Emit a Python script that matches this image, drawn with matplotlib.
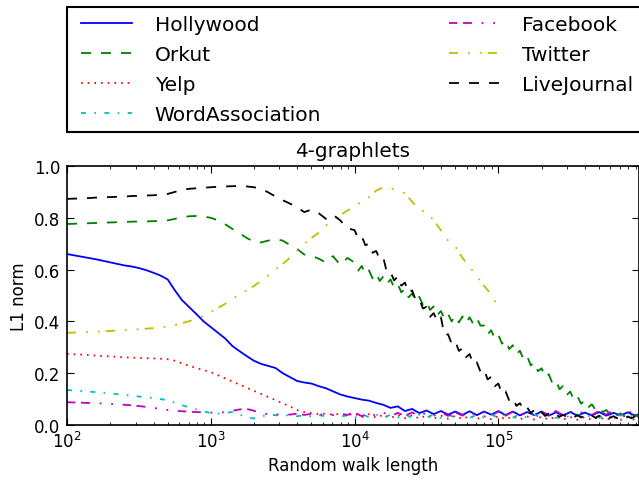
import numpy as np
import matplotlib
matplotlib.use("Agg")
import matplotlib.pyplot as plt
from matplotlib.lines import Line2D
from matplotlib.legend_handler import HandlerLine2D

# ---------------- data ----------------
# random-walk lengths: coarse log grid (step 0.05 decade) and a fine grid
# (step 0.025 decade) used for the noisy tails of Orkut / LiveJournal
coarse_lengths = 10 ** np.round(np.arange(2.0, 6.0001, 0.05), 3)
fine_lengths = 10 ** np.round(np.arange(4.0, 6.0001, 0.025), 3)

series_names = ["Hollywood", "Orkut", "Yelp", "WordAssociation",
                "Facebook", "Twitter", "LiveJournal"]

hollywood = [
    .660, .655, .650, .645, .640, .634, .628, .622, .616, .612,
    .606, .598, .588, .577, .562, .520, .482, .455, .428, .400,
    .378, .356, .334, .305, .285, .266, .248, .236, .228, .220,
    .200, .185, .170, .164, .160, .150, .142, .130, .118, .110,
    .104, .098, .094, .085, .078, .066, .072, .054, .062, .046,
    .056, .042, .054, .040, .052, .039, .053, .038, .052, .040,
    .054, .038, .052, .037, .050, .038, .052, .036, .049, .037,
    .050, .036, .048, .037, .050, .036, .047, .037, .049, .036,
    .046]

orkut_head = [
    .776, .777, .778, .779, .780, .781, .782, .783, .784, .785,
    .786, .786, .787, .788, .790, .796, .802, .806, .807, .805,
    .800, .790, .775, .757, .740, .722, .708, .705, .712, .718,
    .712, .695, .680, .658, .654, .642, .628, .652, .618, .645]
orkut_tail = [
    .627, .596, .614, .582, .597, .566, .586, .556, .574, .546,
    .562, .530, .544, .512, .526, .493, .508, .478, .495, .464,
    .478, .444, .458, .424, .440, .409, .428, .400, .422, .396,
    .419, .393, .416, .390, .412, .384, .384, .350, .366, .333,
    .348, .314, .328, .293, .308, .274, .287, .252, .266, .230,
    .242, .208, .219, .184, .196, .162, .173, .138, .151, .116,
    .129, .096, .110, .082, .095, .068, .080, .058, .068, .050,
    .058, .042, .050, .037, .045, .034, .041, .032, .039, .031,
    .038]

yelp = [
    .275, .273, .272, .270, .268, .266, .265, .263, .261, .260,
    .259, .258, .257, .256, .254, .248, .238, .228, .220, .212,
    .204, .192, .180, .168, .156, .144, .132, .120, .108, .096,
    .084, .072, .058, .050, .046, .042, .044, .040, .043, .038,
    .044, .030, .042, .028, .040, .027, .039, .026, .038, .025,
    .037, .024, .036, .024, .035, .023, .035, .023, .034, .022,
    .034, .022, .033, .022, .033, .021, .032, .021, .032, .021,
    .031, .020, .031, .020, .030, .020, .030, .020, .030, .019,
    .029]

word_association = [
    .135, .133, .131, .129, .127, .125, .122, .119, .116, .113,
    .110, .107, .104, .100, .096, .086, .076, .068, .060, .053,
    .046, .044, .047, .050, .040, .030, .025, .032, .040, .038,
    .036, .038, .034, .037, .033, .038, .034, .039, .033, .037,
    .028, .042, .030, .041, .027, .040, .029, .042, .027, .040,
    .029, .041, .027, .040, .029, .041, .027, .040, .028, .041,
    .027, .040, .029, .041, .027, .040, .028, .041, .027, .040,
    .029, .041, .027, .040, .028, .041, .027, .040, .028, .041,
    .030]

facebook = [
    .088, .087, .086, .085, .084, .083, .082, .080, .078, .076,
    .073, .070, .066, .062, .058, .055, .053, .051, .050, .049,
    .048, .047, .050, .055, .060, .062, .055, .045, .042, .040,
    .042, .040, .044, .039, .043, .038, .044, .038, .043, .039,
    .048, .034, .047, .035, .048, .034, .047, .035, .049, .034,
    .048, .035, .050, .035, .049, .036, .051, .035, .050, .036,
    .052, .036, .051, .037, .053, .037, .052, .038, .054, .038,
    .053, .039, .055, .039, .054, .040, .056, .040, .055, .041,
    .056]

twitter = [
    .356, .357, .358, .359, .360, .362, .363, .365, .366, .368,
    .370, .372, .374, .377, .380, .386, .393, .401, .410, .422,
    .436, .452, .468, .486, .504, .520, .537, .556, .578, .600,
    .622, .645, .672, .700, .722, .742, .770, .790, .810, .828,
    .845, .862, .880, .905, .918, .915, .903, .895, .862, .830,
    .822, .790, .752, .712, .690, .645, .610, .575, .537, .505,
    .455]

livejournal_head = [
    .873, .874, .875, .876, .878, .879, .880, .881, .882, .884,
    .885, .886, .887, .889, .892, .900, .908, .912, .914, .916,
    .918, .920, .921, .922, .923, .921, .918, .912, .898, .882,
    .868, .855, .840, .822, .832, .818, .796, .812, .790, .760]
livejournal_tail = [
    .752, .720, .728, .694, .700, .665, .672, .640, .646, .588,
    .590, .558, .574, .538, .550, .510, .520, .482, .486, .450,
    .456, .418, .432, .400, .416, .348, .350, .314, .324, .286,
    .296, .262, .274, .234, .242, .206, .216, .176, .186, .150,
    .160, .120, .130, .094, .104, .074, .084, .058, .068, .047,
    .057, .040, .049, .035, .044, .034, .041, .032, .040, .031,
    .039, .030, .038, .029, .037, .029, .036, .028, .036, .027,
    .035, .027, .034, .026, .034, .026, .033, .026, .033, .025,
    .032]


def xy_coarse(vals):
    return coarse_lengths[:len(vals)], vals


def xy_split(head, tail):
    x = np.concatenate([coarse_lengths[:len(head)], fine_lengths[:len(tail)]])
    return x, list(head) + list(tail)


series_xy = [xy_coarse(hollywood),
             xy_split(orkut_head, orkut_tail),
             xy_coarse(yelp),
             xy_coarse(word_association),
             xy_coarse(facebook),
             xy_coarse(twitter),
             xy_split(livejournal_head, livejournal_tail)]

# ---------------- styles ----------------
colors = [(0, 0, 1), (0, 0.5, 0), (1, 0, 0), (0, 0.75, 0.75),
          (0.75, 0, 0.75), (0.75, 0.75, 0), (0, 0, 0)]
dash_styles = ["-",
               (0, (7.2, 7.2)),
               (0, (1.2, 3.6)),
               (0, (3.6, 6.0, 1.2, 6.0)),
               (0, (6.0, 4.0, 6.5, 7.0, 1.3, 7.0, 1.3, 7.0)),
               (0, (6.5, 7.2, 1.3, 7.2, 1.3, 4.5)),
               (0, (7.2, 7.2))]

plt.rcParams.update({
    "font.family": ["DejaVu Sans"],
    "font.size": 12,
    "lines.scale_dashes": False,
    "xtick.direction": "in",
    "ytick.direction": "in",
    "xtick.top": True,
    "ytick.right": True,
    "xtick.major.size": 4.8,
    "xtick.minor.size": 2.4,
    "ytick.major.size": 4.8,
    "ytick.minor.size": 2.4,
    "xtick.major.pad": 4,
    "ytick.major.pad": 5,
    "axes.linewidth": 1.2,
})

fig = plt.figure(figsize=(6.39, 4.81), dpi=100)
W, H = 639.0, 481.0
ax = fig.add_axes([67 / W, 1 - 426 / H, (639 - 67) / W, (426 - 167) / H])

for name, (x, vals), col, ds in zip(series_names, series_xy, colors, dash_styles):
    ax.plot(x, vals, color=col, lw=1.3, linestyle=ds, label=name)

ax.set_xscale("log")
ax.set_xlim(100, 9.5e5)
ax.set_ylim(0.0, 1.0)
ax.set_yticks([0.0, 0.2, 0.4, 0.6, 0.8, 1.0])
ax.set_yticklabels(["0.0", "0.2", "0.4", "0.6", "0.8", "1.0"])
ax.tick_params(axis="both", which="major", labelsize=12)
ax.set_title("4-graphlets", fontsize=14.4, pad=7)
ax.set_xlabel("Random walk length", fontsize=12)
ax.set_ylabel("L1 norm", fontsize=12)

handles, labels = ax.get_legend_handles_labels()
leg = fig.legend(handles, labels, loc="upper left",
                 bbox_to_anchor=(67 / W, 1 - 8 / H),
                 bbox_transform=fig.transFigure,
                 ncol=2, fontsize=14.5, borderaxespad=0,
                 borderpad=0.4, labelspacing=0.55,
                 handlelength=2.85, handletextpad=1.1,
                 columnspacing=6.05, fancybox=False, framealpha=1,
                 edgecolor="black",
                 handler_map={Line2D: HandlerLine2D(xpad=0.3)})
leg.get_frame().set_linewidth(1.5)

fig.savefig("out.png", dpi=100)
